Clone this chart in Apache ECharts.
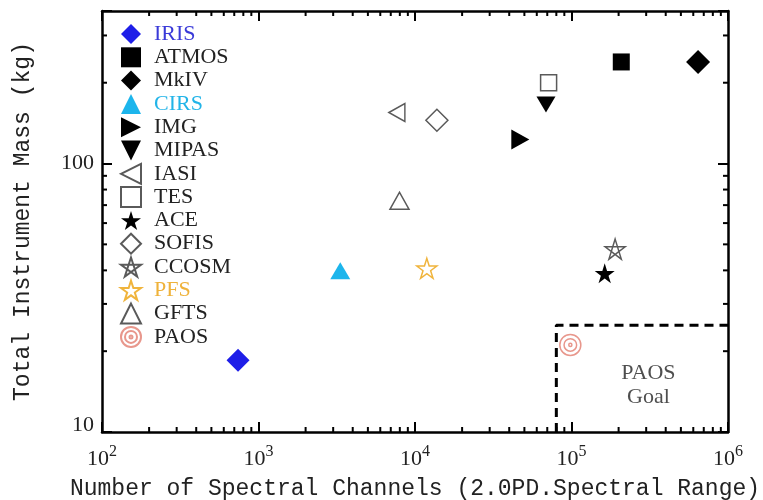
<!DOCTYPE html>
<html>
<head>
<meta charset="utf-8">
<script src="https://cdn.jsdelivr.net/npm/echarts@6/dist/echarts.min.js"></script>
<style>
html,body{margin:0;padding:0;background:#fff;}
#chart{width:763px;height:500px;}
</style>
</head>
<body>
<div id="chart"></div>
<script>
// ---- data ----
const instruments = ['IRIS','ATMOS','MkIV','CIRS','IMG','MIPAS','IASI','TES','ACE','SOFIS','CCOSM','PFS','GFTS','PAOS'];
const channels    = [740, 208000, 644000, 3330, 47100, 68700, 7660, 71400, 163000, 13800, 190000, 11900, 7960, 98300];
const massKg      = [18.5, 239, 239, 39.9, 123, 166, 155, 200, 39, 145, 48, 40.7, 72.7, 21.1];

const goalChannels = 80000;
const goalMass = 25;
const goalLabel = 'PAOS\nGoal';
const goalLabelPos = [310000, 15.0];

const xRange = [100, 1000000];
const yRange = [10, 370];
const minorMultipliers = [2,3,4,5,6,7,8,9];
const xDecades = [100, 1000, 10000, 100000];
const yDecades = [10, 100];

const xTitle = 'Number of Spectral Channels (2.0PD.Spectral Range)';
const yTitle = 'Total Instrument Mass (kg)';

// ---- styles ----
const serif = 'Liberation Serif';
const mono = 'Liberation Mono';
const openGray = '#5a5a5a';
const starPath = 'path://M0,-10 L2.245,-3.09 L9.511,-3.09 L3.633,1.18 L5.878,8.09 L0,3.82 L-5.878,8.09 L-3.633,1.18 L-9.511,-3.09 L-2.245,-3.09 Z';
const pentagramPath = 'path://M0,-10 L5.878,8.09 L-9.511,-3.09 L9.511,-3.09 L-5.878,8.09 Z';
const targetPath = 'path://M10,0 A10,10 0 1 1 -10,0 A10,10 0 1 1 10,0 Z M6,0 A6,6 0 1 1 -6,0 A6,6 0 1 1 6,0 Z M1.5,0 A1.5,1.5 0 1 1 -1.5,0 A1.5,1.5 0 1 1 1.5,0 Z';
const triUp = 'path://M0,-1 L1,1 L-1,1 Z';
const triDown = 'path://M-1,-1 L1,-1 L0,1 Z';
const triLeft = 'path://M-1,0 L1,-1 L1,1 Z';
const triRight = 'path://M1,0 L-1,-1 L-1,1 Z';

const styles = {
  IRIS:  {symbol:'diamond', size:23, fill:'#1e1ee8', text:'#3a3ad8'},
  ATMOS: {symbol:'rect', size:17, fill:'#000'},
  MkIV:  {symbol:'diamond', size:24, fill:'#000'},
  CIRS:  {symbol:triUp, size:[20,17], fill:'#1cb5ec', text:'#22b4e8'},
  IMG:   {symbol:triRight, size:[18,20], fill:'#000'},
  MIPAS: {symbol:triDown, size:[19,16], fill:'#000'},
  IASI:  {symbol:triLeft, size:[16,18], stroke:openGray},
  TES:   {symbol:'rect', size:16, stroke:openGray},
  ACE:   {symbol:starPath, size:20, fill:'#000'},
  SOFIS: {symbol:'diamond', size:22, stroke:openGray},
  CCOSM: {symbol:pentagramPath, size:20, stroke:openGray},
  PFS:   {symbol:starPath, size:20, stroke:'#f0b43c', text:'#efb23a'},
  GFTS:  {symbol:triUp, size:[19,17], stroke:openGray},
  PAOS:  {symbol:targetPath, size:21, stroke:'#e8978c'}
};

const pointSeries = instruments.map((name, i) => {
  const s = styles[name];
  const itemStyle = s.fill
    ? {color: s.fill, borderWidth: 0, opacity: 1}
    : {color: 'rgba(255,255,255,0)', borderColor: s.stroke, borderWidth: 1.5, opacity: 1};
  return {
    name: name,
    type: 'scatter',
    xAxisIndex: 0, yAxisIndex: 0,
    symbol: s.symbol,
    symbolSize: s.size,
    symbolKeepAspect: false,
    itemStyle: itemStyle,
    data: [[channels[i], massKg[i]]],
    z: 5,
    clip: false
  };
});

function minorList(decades) {
  const out = [];
  decades.forEach(d => minorMultipliers.forEach(m => out.push(m * d)));
  return out;
}
const xMinor = minorList(xDecades).filter(v => v < xRange[1]);
const yMinor = minorList(yDecades).filter(v => v < yRange[1]);

// side: 0 bottom, 1 top, 2 left, 3 right
const minorTickData = [].concat(
  xMinor.map(v => [v, yRange[0], 0]),
  xMinor.map(v => [v, yRange[1], 1]),
  yMinor.map(v => [xRange[0], v, 2]),
  yMinor.map(v => [xRange[1], v, 3])
);
const tickLen = 5;
const minorTickSeries = {
  name: 'minorTicks',
  type: 'custom', silent: true, clip: false,
  xAxisIndex: 0, yAxisIndex: 0,
  encode: {x: 0, y: 1},
  data: minorTickData,
  z: 3,
  renderItem: function (params, api) {
    const p = api.coord([api.value(0), api.value(1)]);
    const side = api.value(2);
    let x2 = p[0], y2 = p[1];
    if (side === 0) y2 -= tickLen;
    else if (side === 1) y2 += tickLen;
    else if (side === 2) x2 += tickLen;
    else x2 -= tickLen;
    return {type: 'line', shape: {x1: p[0], y1: p[1], x2: x2, y2: y2},
            style: {stroke: '#000', lineWidth: 2}};
  }
};

const goalSeries = {
  name: 'goalBox',
  type: 'line', silent: true, xAxisIndex: 0, yAxisIndex: 0,
  symbol: 'none', clip: false,
  lineStyle: {color: '#000', width: 3, type: [9, 6]},
  data: [[goalChannels, yRange[0]], [goalChannels, goalMass], [xRange[1], goalMass]],
  z: 2
};

const goalTextSeries = {
  name: 'goalText',
  type: 'scatter', silent: true, xAxisIndex: 0, yAxisIndex: 0,
  symbolSize: 0,
  data: [goalLabelPos],
  label: {show: true, position: 'inside', formatter: goalLabel,
          fontFamily: serif, fontSize: 22, color: '#222', lineHeight: 24, align: 'center'},
  z: 4
};

const axisLineStyle = {color: '#000', width: 2.5};
const majorTick = {show: true, inside: true, length: 10, lineStyle: {color: '#000', width: 2}};

const xLabelFmt = v => {
  const e = Math.round(Math.log10(v));
  if (Math.abs(Math.log10(v) - e) > 1e-6) return '';
  return '{b|10}{s|' + e + '}';
};
const yLabelFmt = v => {
  const e = Math.round(Math.log10(v));
  if (Math.abs(Math.log10(v) - e) > 1e-6) return '';
  return v === yRange[0] ? '{lo|' + v + '}' : '{n|' + v + '}';
};

const legendData = instruments.map(name => ({
  name: name,
  textStyle: {color: styles[name].text || '#222'}
}));

const chart = echarts.init(document.getElementById('chart'), null, {renderer: 'canvas'});
chart.setOption({
  animation: false,
  backgroundColor: '#fff',
  grid: {left: 102, right: 35, top: 11, bottom: 68, containLabel: false, outerBoundsMode: 'none'},
  legend: {
    orient: 'vertical', left: 120, top: 23, padding: 0,
    itemWidth: 20, itemHeight: 20, itemGap: 1.3,
    selectedMode: false,
    data: legendData,
    textStyle: {fontFamily: serif, fontSize: 22, color: '#222', lineHeight: 16, padding: [0, 0, 4, 8]}
  },
  xAxis: [{
    type: 'log', logBase: 10, min: xRange[0], max: xRange[1], position: 'bottom',
    axisLine: {lineStyle: axisLineStyle},
    axisTick: majorTick,
    splitLine: {show: false},
    axisLabel: {
      margin: 12, formatter: xLabelFmt,
      rich: {
        b: {fontFamily: serif, fontSize: 22, color: '#222'},
        s: {fontFamily: serif, fontSize: 16, color: '#222', padding: [0, 0, 14, 0]}
      }
    },
    name: xTitle, nameLocation: 'middle', nameGap: 45,
    nameTextStyle: {fontFamily: mono, fontSize: 23, color: '#222'}
  }, {
    type: 'log', logBase: 10, min: xRange[0], max: xRange[1], position: 'top',
    axisLine: {lineStyle: axisLineStyle},
    axisTick: majorTick,
    splitLine: {show: false},
    axisLabel: {show: false}
  }],
  yAxis: [{
    type: 'log', logBase: 10, min: yRange[0], max: yRange[1], position: 'left',
    axisLine: {lineStyle: axisLineStyle},
    axisTick: majorTick,
    splitLine: {show: false},
    axisLabel: {
      margin: 8, formatter: yLabelFmt,
      rich: {
        n: {fontFamily: serif, fontSize: 22, color: '#222'},
        lo: {fontFamily: serif, fontSize: 22, color: '#222', padding: [0, 0, 14, 0]}
      }
    },
    name: yTitle, nameLocation: 'middle', nameGap: 68,
    nameTextStyle: {fontFamily: mono, fontSize: 23, color: '#222'}
  }, {
    type: 'log', logBase: 10, min: yRange[0], max: yRange[1], position: 'right',
    axisLine: {lineStyle: axisLineStyle},
    axisTick: majorTick,
    splitLine: {show: false},
    axisLabel: {show: false}
  }],
  series: [goalSeries, goalTextSeries, minorTickSeries].concat(pointSeries)
});
</script>
</body>
</html>
